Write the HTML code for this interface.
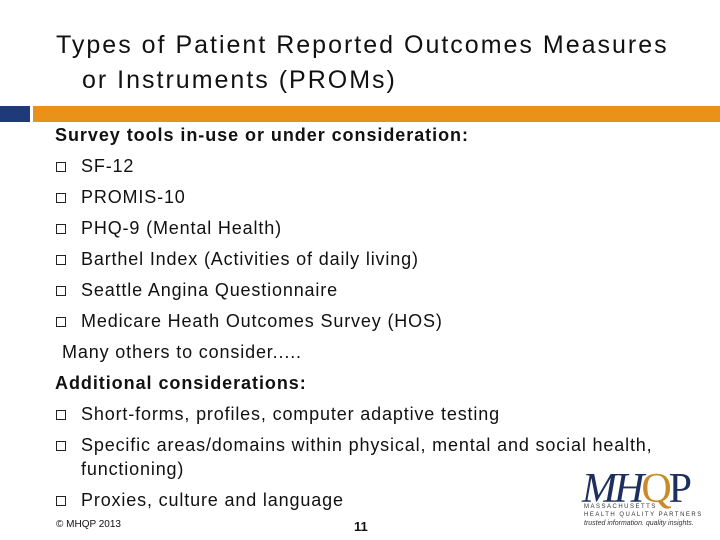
<!DOCTYPE html>
<html><head><meta charset="utf-8"><style>
body{margin:0;width:720px;height:540px;background:#fff;position:relative;overflow:hidden;font-family:"Liberation Sans",sans-serif;color:#111}
.a{position:absolute;white-space:nowrap}
.t{font-size:25px;left:56px;letter-spacing:2px}
.l{font-size:18px;left:81px;letter-spacing:0.85px}
.b{position:absolute;left:56px;width:8px;height:8px;border:1px solid #222}
.h{font-size:18px;font-weight:bold;left:55px;letter-spacing:0.95px}
</style></head><body>
<div class="a t" style="top:31px">Types of Patient Reported Outcomes Measures</div>
<div class="a t" style="top:66px;left:82px">or Instruments (PROMs)</div>
<div class="a" style="left:0;top:106px;width:30px;height:16px;background:#1f3a7a"></div>
<div class="a" style="left:33px;top:106px;width:687px;height:16px;background:#e8921a"></div>
<div class="a h" style="top:125px">Survey tools in-use or under consideration:</div>
<div class="b" style="top:162px"></div><div class="a l" style="top:156px">SF-12</div>
<div class="b" style="top:193px"></div><div class="a l" style="top:187px">PROMIS-10</div>
<div class="b" style="top:224px"></div><div class="a l" style="top:218px">PHQ-9 (Mental Health)</div>
<div class="b" style="top:255px"></div><div class="a l" style="top:249px">Barthel Index (Activities of daily living)</div>
<div class="b" style="top:286px"></div><div class="a l" style="top:280px">Seattle Angina Questionnaire</div>
<div class="b" style="top:317px"></div><div class="a l" style="top:311px">Medicare Heath Outcomes Survey (HOS)</div>
<div class="a l" style="top:342px;left:62px">Many others to consider.....</div>
<div class="a h" style="top:373px">Additional considerations:</div>
<div class="b" style="top:410px"></div><div class="a l" style="top:404px">Short-forms, profiles, computer adaptive testing</div>
<div class="b" style="top:441px"></div><div class="a l" style="top:435px">Specific areas/domains within physical, mental and social health,</div>
<div class="a l" style="top:459px">functioning)</div>
<div class="b" style="top:496px"></div><div class="a l" style="top:490px">Proxies, culture and language</div>
<div class="a" style="left:56px;top:519px;font-size:10px">© MHQP 2013</div>
<div class="a" style="left:354px;top:519px;font-size:13px;font-weight:bold">11</div>
<div class="a" style="left:582px;top:465px;font-family:'Liberation Serif',serif;font-size:42px;font-style:italic;letter-spacing:-3px;color:#1c2f5e">MH<span style="color:#c98a2a;font-style:normal">Q</span><span style="font-style:normal">P</span></div>
<div class="a" style="left:584px;top:504px;font-size:6px;letter-spacing:1.5px;color:#333">MASSACHUSETTS</div>
<div class="a" style="left:584px;top:512px;font-size:6px;letter-spacing:1.5px;color:#333">HEALTH QUALITY PARTNERS</div>
<div class="a" style="left:584px;top:520px;font-size:7px;font-style:italic;color:#333">trusted information. quality insights.</div>
</body></html>
